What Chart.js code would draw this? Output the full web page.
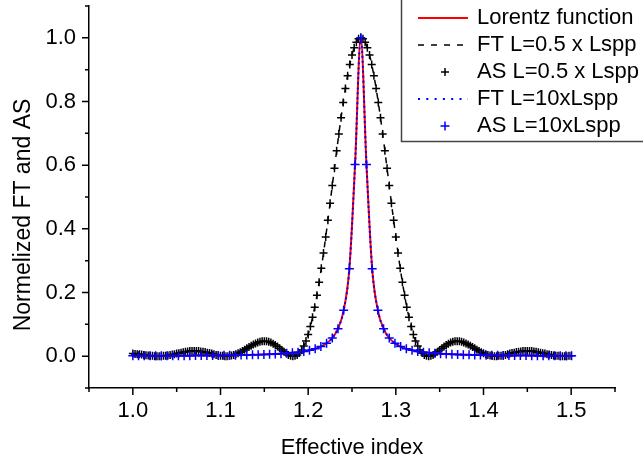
<!DOCTYPE html>
<html>
<head>
<meta charset="utf-8">
<script src="https://cdn.jsdelivr.net/npm/chart.js@4.4.1/dist/chart.umd.min.js"></script>
<style>
  body { margin: 0; background: #fff; }
  canvas { display: block; }
</style>
</head>
<body>
<canvas id="chart" width="643" height="467"></canvas>
<script>
// short guide (L = 0.5 x Lspp), sampled every 0.0025
const shortX = [
  1.0000,1.0025,1.0050,1.0075,1.0100,1.0125,1.0150,1.0175,1.0200,1.0225,
  1.0250,1.0275,1.0300,1.0325,1.0350,1.0375,1.0400,1.0425,1.0450,1.0475,
  1.0500,1.0525,1.0550,1.0575,1.0600,1.0625,1.0650,1.0675,1.0700,1.0725,
  1.0750,1.0775,1.0800,1.0825,1.0850,1.0875,1.0900,1.0925,1.0950,1.0975,
  1.1000,1.1025,1.1050,1.1075,1.1100,1.1125,1.1150,1.1175,1.1200,1.1225,
  1.1250,1.1275,1.1300,1.1325,1.1350,1.1375,1.1400,1.1425,1.1450,1.1475,
  1.1500,1.1525,1.1550,1.1575,1.1600,1.1625,1.1650,1.1675,1.1700,1.1725,
  1.1750,1.1775,1.1800,1.1825,1.1850,1.1875,1.1900,1.1925,1.1950,1.1975,
  1.2000,1.2025,1.2050,1.2075,1.2100,1.2125,1.2150,1.2175,1.2200,1.2225,
  1.2250,1.2275,1.2300,1.2325,1.2350,1.2375,1.2400,1.2425,1.2450,1.2475,
  1.2500,1.2525,1.2550,1.2575,1.2600,1.2625,1.2650,1.2675,1.2700,1.2725,
  1.2750,1.2775,1.2800,1.2825,1.2850,1.2875,1.2900,1.2925,1.2950,1.2975,
  1.3000,1.3025,1.3050,1.3075,1.3100,1.3125,1.3150,1.3175,1.3200,1.3225,
  1.3250,1.3275,1.3300,1.3325,1.3350,1.3375,1.3400,1.3425,1.3450,1.3475,
  1.3500,1.3525,1.3550,1.3575,1.3600,1.3625,1.3650,1.3675,1.3700,1.3725,
  1.3750,1.3775,1.3800,1.3825,1.3850,1.3875,1.3900,1.3925,1.3950,1.3975,
  1.4000,1.4025,1.4050,1.4075,1.4100,1.4125,1.4150,1.4175,1.4200,1.4225,
  1.4250,1.4275,1.4300,1.4325,1.4350,1.4375,1.4400,1.4425,1.4450,1.4475,
  1.4500,1.4525,1.4550,1.4575,1.4600,1.4625,1.4650,1.4675,1.4700,1.4725,
  1.4750,1.4775,1.4800,1.4825,1.4850,1.4875,1.4900,1.4925,1.4950,1.4975,
  1.5000
];
const shortY = [
  0.008,0.007,0.006,0.006,0.005,0.004,0.003,0.002,0.001,0.001,
  0.000,0.000,0.000,0.000,0.001,0.001,0.002,0.004,0.005,0.006,
  0.008,0.009,0.011,0.012,0.014,0.015,0.016,0.016,0.016,0.016,
  0.016,0.015,0.014,0.013,0.011,0.010,0.008,0.006,0.004,0.003,
  0.001,0.001,0.000,0.000,0.001,0.002,0.004,0.006,0.009,0.012,
  0.016,0.020,0.025,0.029,0.033,0.037,0.040,0.043,0.045,0.047,
  0.047,0.047,0.045,0.043,0.039,0.035,0.030,0.025,0.019,0.014,
  0.009,0.004,0.001,0.000,0.001,0.004,0.010,0.019,0.032,0.048,
  0.068,0.093,0.122,0.154,0.191,0.232,0.276,0.324,0.374,0.427,
  0.480,0.536,0.590,0.645,0.698,0.749,0.797,0.841,0.881,0.916,
  0.946,0.969,0.986,0.997,1.000,0.997,0.986,0.969,0.946,0.916,
  0.881,0.841,0.797,0.749,0.698,0.645,0.590,0.536,0.480,0.427,
  0.374,0.324,0.276,0.232,0.191,0.154,0.122,0.093,0.068,0.048,
  0.032,0.019,0.010,0.004,0.001,0.000,0.001,0.004,0.009,0.014,
  0.019,0.025,0.030,0.035,0.039,0.043,0.045,0.047,0.047,0.047,
  0.045,0.043,0.040,0.037,0.033,0.029,0.025,0.020,0.016,0.012,
  0.009,0.006,0.004,0.002,0.001,0.000,0.000,0.001,0.001,0.003,
  0.004,0.006,0.008,0.010,0.011,0.013,0.014,0.015,0.016,0.016,
  0.016,0.016,0.016,0.015,0.014,0.012,0.011,0.009,0.008,0.006,
  0.005,0.004,0.002,0.001,0.001,0.000,0.000,0.000,0.000,0.001,
  0.001
];

// long guide (L = 10 x Lspp) and Lorentz fit, sampled every 0.0065
const longX = [
  1.0000,1.0065,1.0130,1.0195,1.0260,1.0325,1.0390,1.0455,1.0520,1.0585,
  1.0650,1.0715,1.0780,1.0845,1.0910,1.0975,1.1040,1.1105,1.1170,1.1235,
  1.1300,1.1365,1.1430,1.1495,1.1560,1.1625,1.1690,1.1755,1.1820,1.1885,
  1.1950,1.2015,1.2080,1.2145,1.2210,1.2275,1.2340,1.2405,1.2470,1.2535,
  1.2600,1.2665,1.2730,1.2795,1.2860,1.2925,1.2990,1.3055,1.3120,1.3185,
  1.3250,1.3315,1.3380,1.3445,1.3510,1.3575,1.3640,1.3705,1.3770,1.3835,
  1.3900,1.3965,1.4030,1.4095,1.4160,1.4225,1.4290,1.4355,1.4420,1.4485,
  1.4550,1.4615,1.4680,1.4745,1.4810,1.4875,1.4940,1.5005
];
const longY = [
  0.0010,0.0010,0.0010,0.0011,0.0012,0.0012,0.0013,0.0014,0.0015,0.0016,
  0.0017,0.0018,0.0019,0.0021,0.0022,0.0024,0.0026,0.0029,0.0031,0.0034,
  0.0038,0.0042,0.0047,0.0052,0.0059,0.0067,0.0077,0.0089,0.0104,0.0124,
  0.0149,0.0184,0.0231,0.0300,0.0404,0.0571,0.0865,0.144,0.275,0.602,
  1.000,
  0.602,0.275,0.144,0.0865,0.0571,0.0404,0.0300,0.0231,0.0184,0.0149,
  0.0124,0.0104,0.0089,0.0077,0.0067,0.0059,0.0052,0.0047,0.0042,0.0038,
  0.0034,0.0031,0.0029,0.0026,0.0024,0.0022,0.0021,0.0019,0.0018,0.0017,
  0.0016,0.0015,0.0014,0.0013,0.0012,0.0012,0.0011
];

const seriesNames = ["Lorentz function", "FT L=0.5 x Lspp", "AS L=0.5 x Lspp", "FT L=10xLspp", "AS L=10xLspp"];
const xTitle = "Effective index";
const yTitle = "Normelized FT and AS";

const FONT = "'Liberation Sans', Arial, Helvetica, sans-serif";
Chart.defaults.font.family = FONT;
Chart.defaults.color = "#000";

const pts = (xs, ys) => xs.map((v, i) => ({ x: v, y: ys[i] }));

const lineSet = (label, xs, ys, color, width, dash, legendDash, order) => ({
  label: label,
  data: pts(xs, ys),
  showLine: true,
  borderColor: color,
  borderWidth: width,
  borderDash: dash,
  legendDash: legendDash,
  pointRadius: 0,
  cubicInterpolationMode: "monotone",
  order: order,
});

const markSet = (label, xs, ys, color, r, order) => ({
  label: label,
  data: pts(xs, ys),
  showLine: false,
  pointStyle: "cross",
  pointRadius: r,
  pointBorderWidth: 1.5,
  pointBorderColor: color,
  borderColor: color,
  order: order,
});

// minor/major ticks, rotated y title and the boxed legend
const extras = {
  id: "extras",
  afterDraw(chart) {
    const ctx = chart.ctx;
    const xs = chart.scales.x;
    const ys = chart.scales.y;
    ctx.save();
    ctx.strokeStyle = "#000";
    ctx.lineWidth = 1.5;
    ctx.beginPath();
    xs.ticks.forEach((t) => {
      const px = xs.getPixelForValue(t.value);
      ctx.moveTo(px, xs.top);
      ctx.lineTo(px, xs.top + (t.label ? 7 : 4));
    });
    ys.ticks.forEach((t) => {
      const py = ys.getPixelForValue(t.value);
      ctx.moveTo(ys.right, py);
      ctx.lineTo(ys.right - (t.label ? 7 : 4), py);
    });
    ctx.stroke();

    ctx.fillStyle = "#000";
    ctx.textAlign = "center";
    ctx.textBaseline = "middle";
    ctx.save();
    ctx.font = "23px " + FONT;
    ctx.translate(23.5, 215);
    ctx.rotate(-Math.PI / 2);
    ctx.fillText(yTitle, 0, 0);
    ctx.restore();

    // legend box
    ctx.font = "22px " + FONT;
    ctx.fillStyle = "#fff";
    ctx.fillRect(401.5, -5, 260, 146.5);
    ctx.strokeStyle = "#444";
    ctx.lineWidth = 1.5;
    ctx.strokeRect(401.5, -5, 260, 146.5);

    chart.data.datasets.forEach((ds, i) => {
      const y = 18 + 27 * i;
      ctx.strokeStyle = ds.borderColor;
      if (ds.showLine) {
        ctx.lineWidth = ds.borderWidth;
        ctx.setLineDash(ds.legendDash || []);
        ctx.beginPath();
        ctx.moveTo(418, y);
        ctx.lineTo(468, y);
        ctx.stroke();
        ctx.setLineDash([]);
      } else {
        const r = ds.pointRadius;
        ctx.lineWidth = 1.5;
        ctx.beginPath();
        ctx.moveTo(445 - r, y);
        ctx.lineTo(445 + r, y);
        ctx.moveTo(445, y - r);
        ctx.lineTo(445, y + r);
        ctx.stroke();
      }
      ctx.fillStyle = "#000";
      ctx.textAlign = "left";
      ctx.fillText(ds.label, 477, y);
    });
    ctx.restore();
  },
};

new Chart(document.getElementById("chart"), {
  type: "scatter",
  data: {
    datasets: [
      lineSet(seriesNames[0], longX, longY, "#ff0000", 2, [], [], 3),
      lineSet(seriesNames[1], shortX, shortY, "#000000", 1.5, [6, 7], [6, 7], 5),
      markSet(seriesNames[2], shortX, shortY, "#000000", 4, 4),
      lineSet(seriesNames[3], longX, longY, "#0000ff", 2, [2, 3], [2, 6.3], 2),
      markSet(seriesNames[4], longX, longY, "#0000ff", 4.5, 1),
    ],
  },
  options: {
    responsive: false,
    animation: false,
    events: [],
    layout: { padding: { left: 0, top: 3, right: 28, bottom: 0 } },
    plugins: {
      legend: { display: false },
      tooltip: { enabled: false },
    },
    scales: {
      x: {
        type: "linear",
        min: 0.95,
        max: 1.55,
        grid: { display: false, drawTicks: false },
        border: { display: true, color: "#000", width: 1.5 },
        ticks: {
          stepSize: 0.05,
          autoSkip: false,
          maxRotation: 0,
          padding: 12,
          font: { size: 22, lineHeight: 1 },
          callback: (v) => {
            const r = Math.round(v * 20);
            return r % 2 === 0 ? (r / 20).toFixed(1) : "";
          },
        },
        title: {
          display: true,
          text: xTitle,
          font: { size: 22, lineHeight: 1 },
          padding: { top: 0, bottom: 8 },
        },
        afterFit: (s) => {
          s.height = 79;
          s.paddingLeft = 0;
          s.paddingRight = 0;
        },
      },
      y: {
        type: "linear",
        min: -0.1,
        max: 1.1,
        grid: { display: false, drawTicks: false },
        border: { display: true, color: "#000", width: 1.5 },
        ticks: {
          stepSize: 0.1,
          autoSkip: false,
          padding: 13,
          font: { size: 22, lineHeight: 1 },
          callback: (v) => {
            const r = Math.round(v * 10);
            return r % 2 === 0 ? (r / 10).toFixed(1) : "";
          },
        },
        afterFit: (s) => {
          s.width = 89;
          s.paddingTop = 0;
          s.paddingBottom = 0;
        },
      },
    },
  },
  plugins: [extras],
});
</script>
</body>
</html>
